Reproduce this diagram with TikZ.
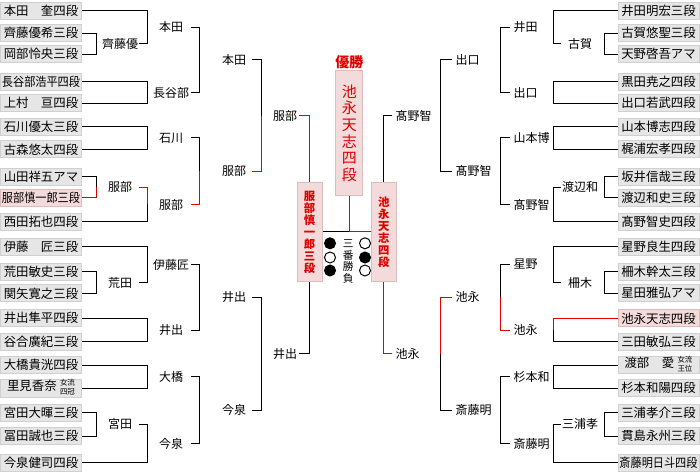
\documentclass[tikz,border=0pt]{standalone}
\usepackage{fontspec}
\usepackage{graphicx}
\newfontfamily\jp{Noto Sans CJK JP}
\definecolor{winred}{RGB}{224,0,0}
\definecolor{boxfill}{RGB}{230,230,230}
\definecolor{boxline}{RGB}{208,208,208}
\definecolor{pinkfill}{RGB}{243,219,219}
\definecolor{pinkline}{RGB}{222,188,188}
\newcommand{\sqz}[1]{\scalebox{0.9}[1]{#1}}
\newcommand{\stk}[2]{\kern2.5pt{\fontsize{5.6}{6.5}\selectfont\begin{tabular}{@{}c@{}}#1\\#2\end{tabular}}}
\tikzset{
  namebox/.style={draw=boxline, fill=boxfill, minimum width=60.75pt, minimum height=12.75pt,
    inner sep=0pt, font=\jp\fontsize{9.3}{10}\selectfont},
  winbox/.style={namebox, draw=pinkline, fill=pinkfill},
  lab/.style={inner sep=0pt, font=\jp\fontsize{9}{10}\selectfont},
  labA/.style={lab, minimum width=27pt},
  labH/.style={lab, minimum width=28.5pt},
  labI/.style={lab, minimum width=25.5pt},
  labK/.style={lab, minimum width=19.5pt},
  labR/.style={lab, anchor=west, inner xsep=2.25pt},
  win/.style={draw=winred},
  semibox/.style={draw=pinkline, fill=pinkfill, minimum width=18.75pt, minimum height=73.5pt,
    inner sep=0pt, align=center, text=winred, font=\jp\bfseries\fontsize{8.5}{9}\selectfont},
  stone/.style={draw, circle, minimum size=8.25pt, inner sep=0pt}
}
\begin{document}
\begin{tikzpicture}[x=0.75pt, y=-0.75pt, line width=0.75pt]
  \useasboundingbox (0,0) rectangle (700,474);
  % left block
  \foreach \y/\s/\n [count=\i from 0] in {11/namebox/本田　奎四段, 33.3/namebox/齊藤優希三段,
      54.3/namebox/岡部怜央三段, 81.7/namebox/\sqz{長谷部浩平四段}, 103.3/namebox/上村　亘四段,
      126.7/namebox/石川優太三段, 149.3/namebox/古森悠太四段, 176.7/namebox/山田祥五アマ,
      197.7/winbox/\sqz{服部慎一郎三段}, 221.7/namebox/西田拓也四段, 246.7/namebox/伊藤　匠三段,
      271.7/namebox/荒田敏史三段, 293.3/namebox/関矢寛之三段, 318.3/namebox/井出隼平四段,
      341.7/namebox/谷合廣紀三段, 365/namebox/大橋貴洸四段, 388.3/namebox/里見香奈\stk{女流}{四冠},
      412.7/namebox/宮田大暉三段, 436/namebox/冨田誠也三段, 462.7/namebox/今泉健司四段}
    \node[\s] (L\i) at (41,\y) {\n};
  % right block
  \foreach \y/\s/\n [count=\i from 0] in {11/namebox/井田明宏三段, 33.3/namebox/古賀悠聖三段,
      54.3/namebox/天野啓吾アマ, 81.7/namebox/黒田尭之四段, 103.3/namebox/出口若武四段,
      126.7/namebox/山本博志四段, 149.3/namebox/梶浦宏孝四段, 176.7/namebox/坂井信哉三段,
      197.7/namebox/渡辺和史三段, 221.7/namebox/髙野智史四段, 246.7/namebox/星野良生四段,
      271.7/namebox/柵木幹太三段, 293.3/namebox/星田雅弘アマ, 318.3/winbox/池永天志四段,
      341.7/namebox/三田敏弘三段, 365/namebox/渡部　愛\stk{女流}{王位}, 388.3/namebox/杉本和陽四段,
      412.7/namebox/三浦孝介三段, 436/namebox/貫島永州三段, 462.7/namebox/\sqz{斎藤明日斗四段}}
    \node[\s] (R\i) at (658.5,\y) {\n};

  % winners, left side
  \foreach \n/\y/\t in {a1/43.8/齊藤優, a2/187.2/服部, a3/282.5/荒田, a4/424.4/宮田}
    {\coordinate (j\n) at (96,\y); \node[labA] (\n) at (120,\y) {\t};}
  \foreach \n/\y/\t in {h1/27.4/本田, h2/92.5/長谷部, h3/138/石川, h4/204.5/服部,
      h5/264.6/伊藤匠, h6/330/井出, h7/376.7/大橋, h8/443.6/今泉}
    {\coordinate (j\n) at (147,\y); \node[labH] (\n) at (171,\y) {\t};}
  \foreach \n/\y/\t in {i1/60/本田, i2/171.3/服部, i3/297.3/井出, i4/410.2/今泉}
    {\coordinate (j\n) at (199,\y); \node[labI] (\n) at (234,\y) {\t};}
  \foreach \n/\y/\t in {k1/115.6/服部, k2/353.7/井出}
    {\coordinate (j\n) at (261,\y); \node[labK] (\n) at (285,\y) {\t};}

  % winners, right side
  \foreach \n/\y/\t in {c1/43.8/古賀, c2/187.2/渡辺和, c3/282.5/柵木, c4/424.4/三浦孝}
    {\coordinate (j\n) at (604,\y); \node[labH] (\n) at (580,\y) {\t};}
  \foreach \n/\y/\t in {d1/27.4/井田, d2/92.5/出口, d3/138/山本博, d4/204.5/髙野智,
      d5/264.6/星野, d6/330/池永, d7/376.7/杉本和, d8/443.6/斎藤明}
    {\coordinate (j\n) at (553,\y); \node[labR] (\n) at (510,\y) {\t};}
  \foreach \n/\y/\t in {e1/60/出口, e2/171.3/髙野智, e3/297.3/池永, e4/410.2/斎藤明}
    {\coordinate (j\n) at (500,\y); \node[labR] (\n) at (452,\y) {\t};}
  \foreach \n/\y/\t in {g1/115.6/髙野智, g2/353.7/池永}
    {\coordinate (j\n) at (440,\y); \node[labR] (\n) at (392,\y) {\t};}

  % brackets
  \foreach \a/\b in {L1/a1, L2/a1, L7/a2, L11/a3, L12/a3, L17/a4, L18/a4,
      L0/h1, a1/h1, L3/h2, L4/h2, L5/h3, L6/h3, L9/h4, L10/h5, a3/h5,
      L13/h6, L14/h6, L15/h7, L16/h7, a4/h8, L19/h8,
      h1/i1, h2/i1, h3/i2, h5/i3, h6/i3, h7/i4, h8/i4, i1/k1, i3/k2, i4/k2}
    \draw (\a.east) -| (j\b);
  \foreach \a/\b in {L8/a2, a2/h4, h4/i2, i2/k1}
    \draw[win] (\a.east) -| (j\b);
  \foreach \a/\b in {R1/c1, R2/c1, R7/c2, R8/c2, R11/c3, R12/c3, R17/c4, R18/c4,
      R0/d1, c1/d1, R3/d2, R4/d2, R5/d3, R6/d3, c2/d4, R9/d4, R10/d5, c3/d5,
      R14/d6, R15/d7, R16/d7, c4/d8, R19/d8,
      d1/e1, d2/e1, d3/e2, d4/e2, d5/e3, d7/e4, d8/e4, e1/g1, e2/g1, e4/g2}
    \draw (\a.west) -| (j\b);
  \foreach \a/\b in {R13/d6, d6/e3, e3/g2}
    \draw[win] (\a.west) -| (j\b);

  % final
  \node[font=\jp\bfseries\fontsize{10.5}{11}\selectfont, text=winred] (champ) at (349.3,62.7) {優勝};
  \node[semibox, minimum width=20.25pt, minimum height=93.75pt, font=\jp\fontsize{11.25}{12.5}\selectfont]
    (F) at (349.3,133) {池\\永\\天\\志\\四\\段};
  \node[semibox] (SL) at (309.5,232) {服\\部\\慎\\一\\郎\\三\\段};
  \node[semibox] (SR) at (383.7,232) {池\\永\\天\\志\\四\\段};
  \coordinate (fj) at (349.3,232);
  \draw[win] (k1.east) -| (SL.north);
  \draw (k2.east) -| (SL.south);
  \draw (g1.west) -| (SR.north);
  \draw[win] (g2.west) -| (SR.south);
  \draw (SL.east) -- (fj);
  \draw[win] (SR.west) -- (fj);
  \draw[win] (F.south) -- (fj);
  \node[align=center, inner sep=0pt, font=\jp\fontsize{8}{8.8}\selectfont] (bo) at (348.3,261.5) {三\\番\\勝\\負};
  \foreach \y/\l/\r [count=\i] in {243.3/black/white, 257.5/white/black, 270.5/black/white}
    {\node[stone, fill=\l] (sl\i) at (330,\y) {}; \node[stone, fill=\r] (sr\i) at (365,\y) {};}
\end{tikzpicture}
\end{document}
